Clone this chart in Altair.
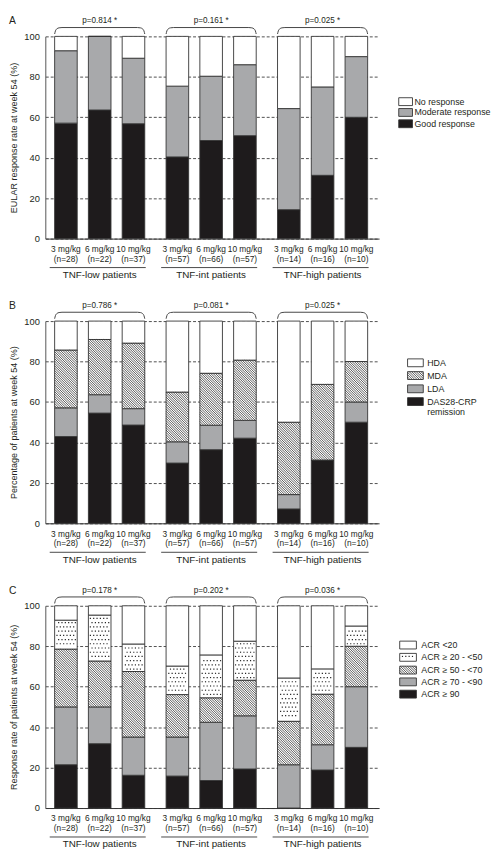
import math
import altair as alt
import pandas as pd

# ---------------- data ----------------
doses = ["3 mg/kg", "6 mg/kg", "10 mg/kg"]
groups = ["TNF-low patients", "TNF-int patients", "TNF-high patients"]
n_patients = [28, 22, 37, 57, 66, 57, 14, 16, 10]

# Panel A (bottom -> top)
a_series = ["Good response", "Moderate response", "No response"]
a_good = [57.1, 63.6, 56.8, 40.4, 48.5, 50.9, 14.3, 31.3, 60.0]
a_moderate = [35.8, 36.4, 32.4, 35.0, 31.8, 35.1, 50.0, 43.7, 30.0]
a_none = [7.1, 0.0, 10.8, 24.6, 19.7, 14.0, 35.7, 25.0, 10.0]
a_pvalues = ["p=0.814 *", "p=0.161 *", "p=0.025 *"]

# Panel B (bottom -> top)
b_series = ["DAS28-CRP remission", "LDA", "MDA", "HDA"]
b_remission = [42.9, 54.5, 48.6, 29.8, 36.4, 42.1, 7.1, 31.3, 50.0]
b_lda = [14.2, 9.1, 8.1, 10.5, 12.1, 8.8, 7.1, 0.0, 10.0]
b_mda = [28.6, 27.3, 32.4, 24.6, 25.7, 29.8, 35.8, 37.4, 20.0]
b_hda = [14.3, 9.1, 10.9, 35.1, 25.8, 19.3, 50.0, 31.3, 20.0]
b_pvalues = ["p=0.786 *", "p=0.081 *", "p=0.025 *"]

# Panel C (bottom -> top)
c_series = ["ACR \u2265 90", "ACR \u2265 70 - <90", "ACR \u2265 50 - <70", "ACR \u2265 20 - <50", "ACR <20"]
c_acr90 = [21.4, 31.8, 16.2, 15.8, 13.6, 19.3, 0.0, 18.8, 30.0]
c_acr70 = [28.6, 18.2, 18.9, 19.3, 28.8, 26.3, 21.4, 12.5, 30.0]
c_acr50 = [28.6, 22.7, 32.4, 21.0, 12.1, 17.6, 21.5, 25.0, 20.0]
c_acr20 = [14.3, 22.7, 13.6, 14.1, 21.2, 19.3, 21.4, 12.5, 10.0]
c_acr_lt20 = [7.1, 4.6, 18.9, 29.8, 24.3, 17.5, 35.7, 31.2, 10.0]
c_pvalues = ["p=0.178 *", "p=0.202 *", "p=0.036 *"]

# ---------------- layout / style ----------------
FONT = "Liberation Sans"
INK = "#231f20"
BLACK = "#1e1b1c"
GRAY = "#a8a9ab"
WHITE = "#ffffff"

W, H = 340, 206
PITCH = 290
STEP = 34.4
LEFT = 21.0
GROUP_STEP = 3.3
BAR_PX = 23.0
XMIN = -LEFT / STEP
XMAX = (W - LEFT) / STEP
HW = BAR_PX / 2 / STEP
positions = [g * GROUP_STEP + i for g in range(3) for i in range(3)]


def to_px(x):
    return (x - XMIN) / (XMAX - XMIN) * W


def to_py(y):
    return (100 - y) / 100 * H


def from_px(px):
    return XMIN + px / W * (XMAX - XMIN)


def from_py(py):
    return 100 - py / H * 100


HATCH_GAP = 2.4


def hatch_lines(x0, x1, y0, y1, out):
    X0, X1 = to_px(x0), to_px(x1)
    T, B = to_py(y1), to_py(y0)
    if B - T < 0.5:
        return
    k0 = math.floor((X0 - B) / HATCH_GAP)
    k1 = math.ceil((X1 - T) / HATCH_GAP)
    for k in range(k0, k1 + 1):
        c = k * HATCH_GAP
        lo = max(X0, T + c)
        hi = min(X1, B + c)
        if hi - lo > 0.3:
            out.append(dict(x=from_px(lo), y=from_py(lo - c), x2=from_px(hi), y2=from_py(hi - c)))


DOT_DX, DOT_DY = 3.4, 4.3


def dot_grid(x0, x1, y0, y1, out):
    X0, X1 = to_px(x0), to_px(x1)
    T, B = to_py(y1), to_py(y0)
    j0 = int(math.floor(T / DOT_DY))
    j1 = int(math.ceil(B / DOT_DY))
    for j in range(j0, j1 + 1):
        py = j * DOT_DY
        if py < T + 1.6 or py > B - 1.6:
            continue
        off = DOT_DX / 2 if j % 2 else 0.0
        for i in range(int((X0 - off) // DOT_DX) - 1, int((X1 - off) // DOT_DX) + 2):
            px = i * DOT_DX + off
            if X0 + 1.6 < px < X1 - 1.6:
                out.append(dict(x=from_px(px), y=from_py(py)))


xscale = alt.Scale(domain=[XMIN, XMAX], nice=False, zero=False)
yscale = alt.Scale(domain=[0, 100], nice=False, zero=False)
xaxis = alt.Axis(labels=False, ticks=False, grid=False, domainColor="#333333",
                 domainWidth=1, title=None)


def make_yaxis(title):
    return alt.Axis(values=[0, 20, 40, 60, 80, 100], grid=True, gridDash=[3, 2],
                    gridColor="#222222", gridWidth=0.8, ticks=False, labelPadding=6,
                    labelFontSize=9.5, labelColor=INK, domainColor="#555555",
                    domainWidth=1, title=title, titleFontSize=9.2,
                    titleFontWeight="normal", titleColor=INK, titlePadding=5)


def build_panel(letter, ytitle, names, series, fills, patterns, pvals, legend):
    yaxis = make_yaxis(ytitle)

    def X(f):
        return alt.X(f, type="quantitative", scale=xscale, axis=xaxis)

    def Y(f):
        return alt.Y(f, type="quantitative", scale=yscale, axis=yaxis)

    rects, hatch, dots = [], [], []
    for b, p in enumerate(positions):
        bottom = 0.0
        for s, vals in enumerate(series):
            top = bottom + vals[b]
            rects.append(dict(x=p - HW, x2=p + HW, y=bottom, y2=top, fill=fills[s]))
            if patterns[s] == "hatch":
                hatch_lines(p - HW, p + HW, bottom, top, hatch)
            elif patterns[s] == "dots":
                dot_grid(p - HW, p + HW, bottom, top, dots)
            bottom = top

    # custom legend (top -> bottom = reversed series order)
    sx0, sx1, tx, rows, extra = legend
    legend_text = []
    order = list(range(len(names)))[::-1]
    for r, s in enumerate(order):
        cy = rows[r]
        ya, yb = from_py(cy + 4), from_py(cy - 4)
        rects.append(dict(x=from_px(sx0), x2=from_px(sx1), y=ya, y2=yb, fill=fills[s]))
        if patterns[s] == "hatch":
            hatch_lines(from_px(sx0), from_px(sx1), ya, yb, hatch)
        elif patterns[s] == "dots":
            dot_grid(from_px(sx0), from_px(sx1), ya, yb, dots)
        label = names[s]
        if extra and s in extra:
            label = extra[s][0]
            legend_text.append(dict(x=from_px(tx), y=from_py(cy + 10.5), t=extra[s][1]))
        legend_text.append(dict(x=from_px(tx), y=from_py(cy), t=label))

    # braces above each group
    brace = []
    prof = [(0, -2.4), (0.8, -5.5), (2.2, -7.6), (4.5, -8.7), (7.5, -9.0)]
    for g in range(3):
        X0 = to_px(g * GROUP_STEP - HW)
        X1 = to_px(g * GROUP_STEP + 2 + HW)
        pts = [(X0 + dx, dy) for dx, dy in prof] + [(X1 - dx, dy) for dx, dy in reversed(prof)]
        for i, (px, py) in enumerate(pts):
            brace.append(dict(x=from_px(px), y=from_py(py), g=g, i=i))

    centers = [g * GROUP_STEP + 1 for g in range(3)]
    ptext = pd.DataFrame(dict(x=centers, t=pvals))
    glab = pd.DataFrame(dict(x=centers, t=groups))
    gline = pd.DataFrame(dict(
        x=[from_px(to_px(g * GROUP_STEP - HW) - 5) for g in range(3)],
        x2=[from_px(to_px(g * GROUP_STEP + 2 + HW) + 1) for g in range(3)]))
    dlab = pd.DataFrame(dict(x=positions, d=doses * 3,
                             n=["(n=%d)" % n for n in n_patients]))

    layers = [
        alt.Chart(pd.DataFrame(rects)).mark_rect(stroke="#333333", strokeWidth=0.9).encode(
            x=X("x"), x2="x2", y=Y("y"), y2="y2", fill=alt.Fill("fill:N", scale=None)),
        alt.Chart(pd.DataFrame(hatch)).mark_rule(stroke="#222222", strokeWidth=0.75).encode(
            x=X("x"), x2="x2", y=Y("y"), y2="y2"),
        alt.Chart(pd.DataFrame(dots)).mark_square(size=1.4, color="#222222", opacity=1).encode(
            x=X("x"), y=Y("y")),
        alt.Chart(pd.DataFrame(brace)).mark_line(stroke="#444444", strokeWidth=1,
                                                 interpolate="monotone").encode(
            x=X("x"), y=Y("y"), detail="g:N", order="i:Q"),
        alt.Chart(ptext).mark_text(fontSize=8.3, color=INK, baseline="middle").encode(
            x=X("x"), y=alt.value(-15.5), text="t:N"),
        alt.Chart(pd.DataFrame(dict(t=[letter]))).mark_text(
            fontSize=10.5, color=INK, baseline="middle", align="left").encode(
            x=alt.value(-37), y=alt.value(-15.5), text="t:N"),
        alt.Chart(dlab).mark_text(fontSize=8.5, color=INK, baseline="middle").encode(
            x=X("x"), y=alt.value(H + 10.5), text="d:N"),
        alt.Chart(dlab).mark_text(fontSize=8.5, color=INK, baseline="middle").encode(
            x=X("x"), y=alt.value(H + 20.5), text="n:N"),
        alt.Chart(gline).mark_rule(stroke="#333333", strokeWidth=0.9).encode(
            x=X("x"), x2="x2", y=alt.value(H + 29.5)),
        alt.Chart(glab).mark_text(fontSize=10, color=INK, baseline="middle").encode(
            x=X("x"), y=alt.value(H + 37), text="t:N"),
        alt.Chart(pd.DataFrame(legend_text)).mark_text(
            fontSize=9, color=INK, baseline="middle", align="left").encode(
            x=X("x"), y=Y("y"), text="t:N"),
    ]
    return alt.layer(*layers).properties(width=W, height=H)


panel_a = build_panel(
    "A", "EULAR response rate at week 54 (%)", a_series,
    [a_good, a_moderate, a_none], [BLACK, GRAY, WHITE], [None, None, None], a_pvalues,
    (360, 374, 376, [66.5, 77.5, 89.0], None))

panel_b = build_panel(
    "B", "Percentage of patients at week 54 (%)", b_series,
    [b_remission, b_lda, b_mda, b_hda], [BLACK, GRAY, WHITE, WHITE],
    [None, None, "hatch", None], b_pvalues,
    (369, 385, 389, [42.5, 55.5, 69.0, 82.0], {0: ("DAS28-CRP", "remission")}))

panel_c = build_panel(
    "C", "Response rate of patients at week 54 (%)", c_series,
    [c_acr90, c_acr70, c_acr50, c_acr20, c_acr_lt20], [BLACK, GRAY, WHITE, WHITE, WHITE],
    [None, None, "hatch", "dots", None], c_pvalues,
    (361, 378, 383, [40.0, 52.5, 65.5, 77.5, 90.0], None))

chart = alt.vconcat(panel_a, panel_b, panel_c, spacing=PITCH - H, bounds="flush").properties(
    padding={"left": 0, "top": 0, "right": 0, "bottom": 0}
).configure(font=FONT).configure_view(stroke="transparent")

chart.save("out.html", embed_options={"renderer": "svg", "actions": False})
